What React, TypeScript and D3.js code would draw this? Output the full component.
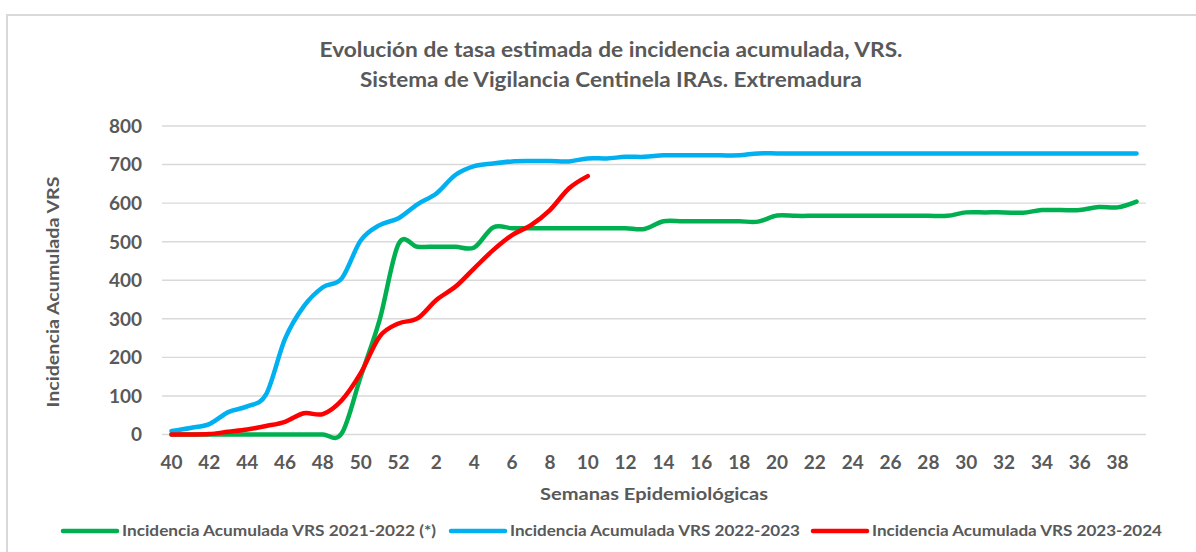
import React from "react";
import * as d3 from "d3";

const weeks = [
  "40","41","42","43","44","45","46","47","48","49","50","51","52",
  "1","2","3","4","5","6","7","8","9","10","11","12","13","14","15","16","17","18","19","20",
  "21","22","23","24","25","26","27","28","29","30","31","32","33","34","35","36","37","38","39"
];
const tickLabels = ["40","42","44","46","48","50","52","2","4","6","8","10","12","14","16","18","20","22","24","26","28","30","32","34","36","38"];
const yTicks = [0, 100, 200, 300, 400, 500, 600, 700, 800];

const serie2122 = [
  0,0,0,0,0,0,0,0,0,3,150,297,494,
  487,487,487,485,537,535,535,535,535,535,535,535,533,553,553,553,553,553,552,568,
  567,567,567,567,567,567,567,567,567,576,576,576,575,582,582,582,590,589,604
];
const serie2223 = [
  9,17,27,58,73,104,248,333,382,405,503,543,561,
  597,625,673,696,703,708,709,709,708,716,716,720,720,724,724,724,724,724,729,729,
  729,729,729,729,729,729,729,729,729,729,729,729,729,729,729,729,729,729,729
];
const serie2324 = [
  0,0,1,7,13,22,33,55,53,89,159,254,288,
  301,349,383,431,478,517,543,582,638,670
];

const seriesNames = [
  "Incidencia Acumulada VRS 2021-2022 (*)",
  "Incidencia Acumulada VRS 2022-2023",
  "Incidencia Acumulada VRS 2023-2024",
];
const seriesColors = ["#00B050", "#00B0F0", "#FF0000"];
const seriesData = [serie2122, serie2223, serie2324];

const W = 1196, H = 552;
const FONT = "Lato, 'Open Sans', 'Liberation Sans', sans-serif";
const TXT = "#595959";

export default function App() {
  const x = d3.scalePoint<string>().domain(weeks).range([162, 1146]).padding(0.5);
  const y = d3.scaleLinear().domain([0, 800]).range([434.5, 126]);
  const line = d3
    .line<number>()
    .x((_, i) => x(weeks[i]) as number)
    .y((d) => y(d))
    .curve(d3.curveCardinal.tension(0));

  const legendX = [63, 451, 813];
  const legendLen = [314, 290, 290];

  return (
    <div style={{ position: "absolute", left: 0, top: 0 }}>
      <svg width={W} height={H} style={{ display: "block", background: "#fff" }}>
        <rect x={7} y={15} width={1220} height={600} fill="#fff" stroke="#d9d9d9" strokeWidth={2} />
        <g fontFamily={FONT} fontWeight="bold" fill={TXT}>
          <text x={611} y={57} textAnchor="middle" fontSize={20} textLength={583} lengthAdjust="spacingAndGlyphs">
            Evolución de tasa estimada de incidencia acumulada, VRS.
          </text>
          <text x={611} y={87} textAnchor="middle" fontSize={20} textLength={502} lengthAdjust="spacingAndGlyphs">
            Sistema de Vigilancia Centinela IRAs. Extremadura
          </text>
        </g>
        <g>
          {yTicks.map((t) => (
            <line key={t} x1={162} x2={1146} y1={y(t)} y2={y(t)} stroke="#d9d9d9" strokeWidth={1.4} />
          ))}
        </g>
        <g fontFamily={FONT} fontWeight="bold" fill={TXT} fontSize={19}>
          {yTicks.map((t) => (
            <text key={t} x={142} y={y(t)} dy="0.36em" textAnchor="end">
              {t}
            </text>
          ))}
          {tickLabels.map((l) => (
            <text key={l} x={x(l) as number} y={462} dy="0.36em" textAnchor="middle">
              {l}
            </text>
          ))}
        </g>
        <g fontFamily={FONT} fontWeight="bold" fill={TXT} fontSize={17}>
          <text x={654} y={494} dy="0.36em" textAnchor="middle" textLength={228} lengthAdjust="spacingAndGlyphs">
            Semanas Epidemiológicas
          </text>
          <text
            transform={`translate(53,292) rotate(-90)`}
            dy="0.36em"
            textAnchor="middle"
            textLength={231}
            lengthAdjust="spacingAndGlyphs"
          >
            Incidencia Acumulada VRS
          </text>
        </g>
        <g fill="none" strokeLinecap="round" strokeLinejoin="round">
          {seriesData.map((s, k) => (
            <path key={k} d={line(s) || ""} stroke={seriesColors[k]} strokeWidth={4.5} />
          ))}
        </g>
        <g fontFamily={FONT} fontWeight="bold" fill={TXT} fontSize={15}>
          {seriesNames.map((n, k) => (
            <g key={n} transform={`translate(${legendX[k]},531)`}>
              <line x1={0} x2={54} y1={0} y2={0} stroke={seriesColors[k]} strokeWidth={4.5} strokeLinecap="round" />
              <text x={59} y={0} dy="0.36em" textLength={legendLen[k]} lengthAdjust="spacingAndGlyphs">
                {n}
              </text>
            </g>
          ))}
        </g>
      </svg>
    </div>
  );
}
